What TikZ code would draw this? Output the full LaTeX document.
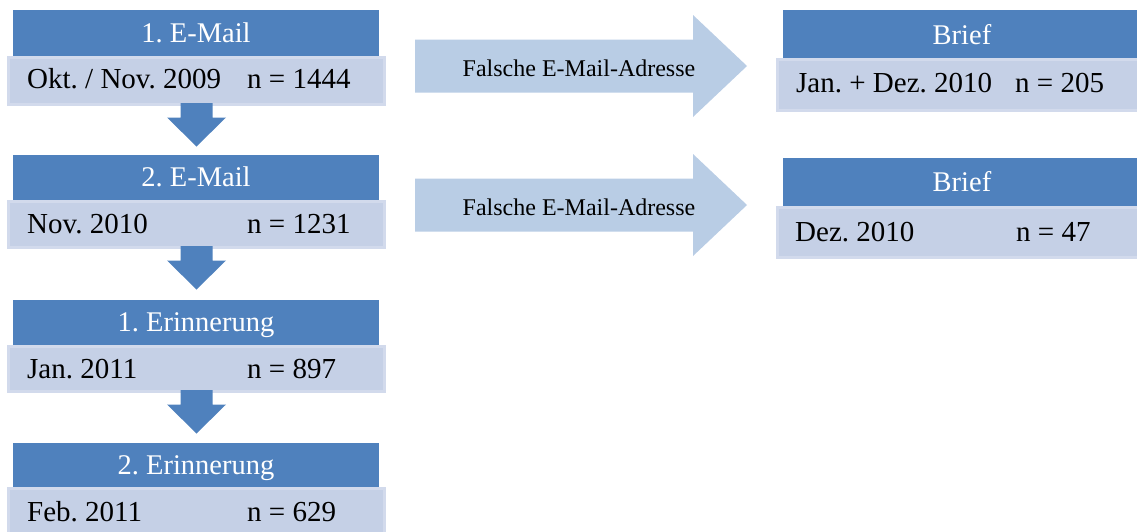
\documentclass[tikz,border=0pt]{standalone}
\usepackage{fontspec}
\setmainfont{Liberation Serif}
\usetikzlibrary{calc}
\frenchspacing
\definecolor{hdrblue}{HTML}{4F81BD}
\definecolor{lightfill}{HTML}{C5D0E6}
\definecolor{lightedge}{HTML}{D2DAEC}
\definecolor{sidearrow}{HTML}{B9CDE5}
\tikzset{
  hdr/.style={fill=hdrblue, draw=none, anchor=north west, inner sep=0pt, outer sep=0pt,
    text=white, font=\fontsize{28.5}{30}\selectfont, text height=18.9pt, text depth=0pt},
  lbox/.style={fill=lightfill, draw=lightedge, line width=3pt, anchor=north west,
    inner sep=0pt, outer sep=0pt},
  bodytxt/.style={anchor=base west, inner sep=0pt, font=\fontsize{29}{31}\selectfont},
  hdrtxt/.style={anchor=base, inner sep=0pt, text=white, font=\fontsize{28.5}{30}\selectfont},
  sidetxt/.style={anchor=base, inner sep=0pt, font=\fontsize{24}{26}\selectfont},
  downarrow/.style={fill=hdrblue, draw=none},
  rightarrow/.style={fill=sidearrow, draw=none}
}
\begin{document}
\begin{tikzpicture}[x=1pt, y=-1pt]
\useasboundingbox (0,0) rectangle (1137,531);
\clip (0,0) rectangle (1137,531);

% left column
\node[lbox, minimum width=376pt, minimum height=47pt] (b1) at (8.5,57.5) {};
\node[hdr, minimum width=366pt, minimum height=46pt] (h1) at (13,10) {1. E-Mail};
\node[bodytxt] (b1l) at (27,88) {Okt. / Nov. 2009};
\node[bodytxt] (b1r) at (247,88) {n = 1444};

\node[lbox, minimum width=376pt, minimum height=46pt] (b2) at (8.5,201.5) {};
\node[hdr, minimum width=366pt, minimum height=45pt] (h2) at (13,155) {2. E-Mail};
\node[bodytxt] (b2l) at (27,233) {Nov. 2010};
\node[bodytxt] (b2r) at (247,233) {n = 1231};

\node[lbox, minimum width=376pt, minimum height=45pt] (b3) at (8.5,346.5) {};
\node[hdr, minimum width=366pt, minimum height=45pt] (h3) at (13,300) {1. Erinnerung};
\node[bodytxt] (b3l) at (27,378) {Jan. 2011};
\node[bodytxt] (b3r) at (247,378) {n = 897};

\node[lbox, minimum width=376pt, minimum height=50pt] (b4) at (8.5,488.5) {};
\node[hdr, minimum width=366pt, minimum height=44pt] (h4) at (13,443) {2. Erinnerung};
\node[bodytxt] (b4l) at (27,521) {Feb. 2011};
\node[bodytxt] (b4r) at (247,521) {n = 629};

% right column
\node[lbox, minimum width=380pt, minimum height=51pt] (r1) at (777.5,59.5) {};
\node[hdr, minimum width=370pt, minimum height=48pt] (rh1) at (783,10) {};
\node[hdrtxt] (rh1t) at (962,44) {Brief};
\node[bodytxt] (r1l) at (796,92) {Jan. + Dez. 2010};
\node[bodytxt] (r1r) at (1015,92) {n = 205};

\node[lbox, minimum width=380pt, minimum height=50pt] (r2) at (777.5,207.5) {};
\node[hdr, minimum width=370pt, minimum height=48pt] (rh2) at (783,158) {};
\node[hdrtxt] (rh2t) at (962,191) {Brief};
\node[bodytxt] (r2l) at (795,241) {Dez. 2010};
\node[bodytxt] (r2r) at (1016,241) {n = 47};

% down arrows (from box bottom toward next header)
\foreach \a in {b1, b2, b3}{
  \path[downarrow] ($(\a.south)+(-16,-1.5)$) -- ($(\a.south)+(-16,13)$)
    -- ($(\a.south)+(-29.5,13)$) -- ($(\a.south)+(0,42)$)
    -- ($(\a.south)+(29.5,13)$) -- ($(\a.south)+(16,13)$)
    -- ($(\a.south)+(16,-1.5)$) -- cycle;
}

% side arrows
\coordinate (s1) at (415,66);
\coordinate (e1) at (747,66);
\coordinate (s2) at (415,205);
\coordinate (e2) at (747,205);
\foreach \s/\e in {s1/e1, s2/e2}{
  \path[rightarrow] ($(\s)+(0,-26.5)$) -- ($(\e)+(-54,-26.5)$) -- ($(\e)+(-54,-51)$)
    -- (\e) -- ($(\e)+(-54,51)$) -- ($(\e)+(-54,26.5)$) -- ($(\s)+(0,26.5)$) -- cycle;
}
\node[sidetxt] (f1) at (579,76) {Falsche E-Mail-Adresse};
\node[sidetxt] (f2) at (579,215) {Falsche E-Mail-Adresse};
\end{tikzpicture}
\end{document}
